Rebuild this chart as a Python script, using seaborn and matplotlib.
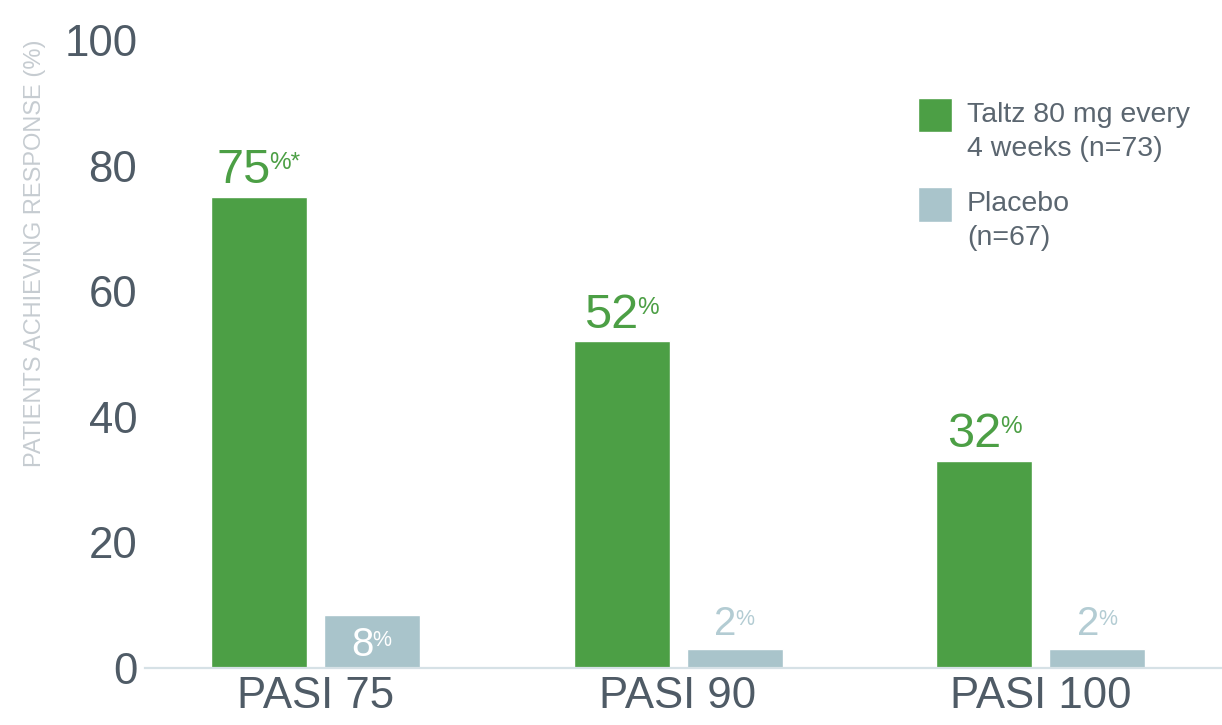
import matplotlib
matplotlib.use("Agg")
import matplotlib.pyplot as plt
from matplotlib import font_manager
from matplotlib.patches import Rectangle
from matplotlib.legend_handler import HandlerPatch
import seaborn as sns
import pandas as pd

# ---------------- data ----------------
measures = ["PASI 75", "PASI 90", "PASI 100"]
groups = ["Taltz 80 mg every\n4 weeks (n=73)", "Placebo\n(n=67)"]
taltz_values = [75, 52, 33]
placebo_values = [8.5, 3, 3]
taltz_labels = ["75", "52", "32"]
taltz_suffix = ["%*", "%", "%"]
placebo_labels = ["8", "2", "2"]
placebo_suffix = ["%", "%", "%"]
y_ticks = [0, 20, 40, 60, 80, 100]
y_title = "PATIENTS ACHIEVING RESPONSE (%)"

# ---------------- style ----------------
GREEN = "#4C9F45"
GREY = "#A9C4CB"
GREY_TEXT = "#B3CCD3"
TICK = "#4F5B66"
YLAB = "#C6CCD1"
LEG = "#5B6670"
BASE = "#D6E1E6"

sns.set_theme(style="white")
plt.rcParams["font.family"] = ["Liberation Sans", "DejaVu Sans"]
names = {f.name for f in font_manager.fontManager.ttflist}
if "Liberation Sans Narrow" in names:
    narrow, ylab_size = "Liberation Sans Narrow", 20
else:
    narrow, ylab_size = "Liberation Sans", 17

df = pd.DataFrame({
    "measure": measures * 2,
    "group": [groups[0]] * len(measures) + [groups[1]] * len(measures),
    "value": taltz_values + placebo_values,
})

fig = plt.figure(figsize=(12.22, 7.25), dpi=100)
ax = fig.add_axes([145 / 1222, 1 - 668 / 725, 1077 / 1222, 628 / 725])

sns.barplot(data=df, x="measure", y="value", hue="group", order=measures,
            hue_order=groups, palette=[GREEN, GREY], width=0.623, gap=0.15,
            errorbar=None, saturation=1, legend=False, ax=ax)

ax.set_ylim(0, 100)
ax.set_xlim(-0.47, 2.5)
ax.set_yticks(y_ticks)
ax.set_yticklabels([str(t) for t in y_ticks])
ax.tick_params(axis="y", length=0, pad=5.5, labelsize=31.5, labelcolor=TICK)
ax.tick_params(axis="x", length=0, pad=6, labelsize=31.5, labelcolor=TICK)
ax.set_xlabel("")
ax.set_ylabel(y_title, fontsize=ylab_size, color=YLAB, family=narrow, va="center")
ax.yaxis.set_label_coords(-0.102, 0.661)
for side in ["left", "right", "top"]:
    ax.spines[side].set_visible(False)
ax.spines["bottom"].set_color(BASE)
ax.spines["bottom"].set_linewidth(1.6)
ax.grid(False)


def add_label(bar, num, suf, size, sup_size, color, inside):
    cx = bar.get_x() + bar.get_width() / 2
    h = bar.get_height()
    suf_w = sup_size * (0.9 * suf.count("%") + 0.4 * suf.count("*"))
    dx = -suf_w / 2 + 0.5
    dy = -size * 0.86 - 4.5 if inside else 10
    t = ax.annotate(num, xy=(cx, h), xytext=(dx, dy), textcoords="offset points",
                    ha="center", va="baseline", fontsize=size, color=color)
    ax.annotate(suf, xy=(1, 1), xycoords=t, xytext=(-1, -3),
                textcoords="offset points", ha="left", va="top",
                fontsize=sup_size, color=color)


for bar, num, suf in zip(ax.containers[0], taltz_labels, taltz_suffix):
    add_label(bar, num, suf, 35, 17.5, GREEN, False)
for bar, num, suf in zip(ax.containers[1], placebo_labels, placebo_suffix):
    inside = bar.get_height() >= 5
    add_label(bar, num, suf, 29, 15.5, "white" if inside else GREY_TEXT, inside)


def top_square(legend, orig_handle, xdescent, ydescent, width, height, fontsize):
    return Rectangle((-xdescent, -ydescent + height - width + 0.2 * fontsize),
                     width, width)


handles = [ax.containers[0].patches[0], ax.containers[1].patches[0]]
leg = ax.legend(handles, groups, loc="upper left", bbox_to_anchor=(0.7177, 0.902),
                frameon=False, fontsize=20.5, labelcolor=LEG, borderpad=0,
                borderaxespad=0, handlelength=1.2, handleheight=2.85,
                handletextpad=0.52, labelspacing=1.0,
                handler_map={h: HandlerPatch(patch_func=top_square) for h in handles})
for t in leg.get_texts():
    t.set_linespacing(1.4)

fig.savefig("out.png", dpi=100, facecolor="white")
